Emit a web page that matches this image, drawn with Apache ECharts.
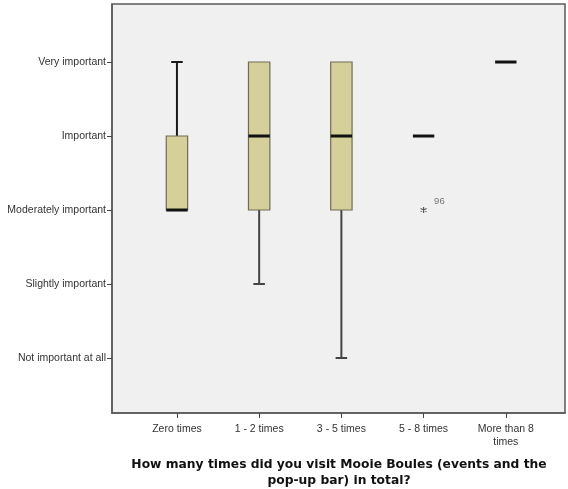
<!DOCTYPE html>
<html>
<head>
<meta charset="utf-8">
<script src="https://cdn.jsdelivr.net/npm/echarts@6/dist/echarts.min.js"></script>
<style>html,body{margin:0;padding:0;background:#fff;}#c{width:568px;height:489px;}</style>
</head>
<body>
<div id="c"></div>
<script>
// ---- data ----
const categories = ['Zero times', '1 - 2 times', '3 - 5 times', '5 - 8 times', 'More than 8\ntimes'];
const yLevels = [1, 2, 3, 4, 5];
const yLabels = ['Not important at all', 'Slightly important', 'Moderately important', 'Important', 'Very important'];
const whiskerLow  = [3, 2, 1, 4, 5];
const q1          = [3, 3, 3, 4, 5];
const medianVals  = [3, 4, 4, 4, 5];
const q3          = [4, 5, 5, 4, 5];
const whiskerHigh = [5, 5, 5, 4, 5];
const outlierCat = [3];
const outlierVal = [3];
const outlierCase = ['96'];
const xTitle = 'How many times did you visit Mooie Boules (events and the\npop-up bar) in total?';

const boxRows = categories.map((c, i) => [i, whiskerLow[i], q1[i], medianVals[i], q3[i], whiskerHigh[i]]);
const outlierRows = outlierCat.map((c, i) => ({ value: [c, outlierVal[i]], name: outlierCase[i] }));

const chart = echarts.init(document.getElementById('c'), null, { renderer: 'canvas' });
const font = 'Liberation Sans, Arial, sans-serif';

function renderBox(params, api) {
  const x = api.value(0);
  const lo = api.value(1), a = api.value(2), m = api.value(3), b = api.value(4), hi = api.value(5);
  const pLo = api.coord([x, lo]), pA = api.coord([x, a]), pM = api.coord([x, m]), pB = api.coord([x, b]), pHi = api.coord([x, hi]);
  const cx = pM[0];
  const w = api.size([1, 0])[0] * 0.26;
  const half = w / 2, cap = w * 0.27;
  const children = [];
  if (hi > b) {
    children.push({ type: 'line', shape: { x1: cx, y1: pB[1], x2: cx, y2: pHi[1] }, style: { stroke: '#1a1a1a', lineWidth: 2 } });
    children.push({ type: 'line', shape: { x1: cx - cap, y1: pHi[1], x2: cx + cap, y2: pHi[1] }, style: { stroke: '#1a1a1a', lineWidth: 2 } });
  }
  if (lo < a) {
    children.push({ type: 'line', shape: { x1: cx, y1: pA[1], x2: cx, y2: pLo[1] }, style: { stroke: '#444', lineWidth: 2 } });
    children.push({ type: 'line', shape: { x1: cx - cap, y1: pLo[1], x2: cx + cap, y2: pLo[1] }, style: { stroke: '#444', lineWidth: 2 } });
  }
  if (b > a) {
    children.push({ type: 'rect', shape: { x: cx - half, y: pB[1], width: w, height: pA[1] - pB[1] }, style: { fill: '#d5d09a', stroke: '#6f6c55', lineWidth: 1.2 } });
  }
  children.push({ type: 'line', shape: { x1: cx - half, y1: pM[1], x2: cx + half, y2: pM[1] }, style: { stroke: '#111', lineWidth: 3 } });
  return { type: 'group', children: children };
}

chart.setOption({
  animation: false,
  backgroundColor: '#ffffff',
  title: {
    text: xTitle,
    left: 334, top: 452, textAlign: 'center',
    textStyle: { fontFamily: 'DejaVu Sans, Verdana, sans-serif', fontWeight: 'bold', fontSize: 12.3, color: '#111', lineHeight: 16 }
  },
  grid: {
    left: 112, right: 3, top: 4, bottom: 76,
    show: true, backgroundColor: '#f0f0f0', borderColor: '#5a5a5a', borderWidth: 1.5,
    containLabel: false
  },
  xAxis: {
    type: 'value', min: -0.79, max: 4.72,
    splitLine: { show: false },
    axisLine: { show: true, onZero: false, lineStyle: { color: '#5a5a5a', width: 1.5 } },
    axisTick: { show: true, customValues: [0, 1, 2, 3, 4], length: 5, lineStyle: { color: '#444' } },
    axisLabel: {
      customValues: [0, 1, 2, 3, 4],
      formatter: v => categories[Math.round(v)] || '',
      fontFamily: font, fontSize: 10.5, color: '#333', margin: 10, lineHeight: 13
    }
  },
  yAxis: {
    type: 'value', min: 0.257, max: 5.784,
    splitLine: { show: false },
    axisLine: { show: true, onZero: false, lineStyle: { color: '#5a5a5a', width: 1.5 } },
    axisTick: { show: true, customValues: yLevels, length: 5, lineStyle: { color: '#444' } },
    axisLabel: {
      customValues: yLevels,
      formatter: v => yLabels[yLevels.indexOf(Math.round(v))] || '',
      fontFamily: font, fontSize: 10.5, color: '#333', margin: 6
    }
  },
  series: [
    {
      type: 'custom',
      renderItem: renderBox,
      data: boxRows,
      encode: { x: 0, y: [1, 2, 3, 4, 5] },
      z: 3
    },
    {
      type: 'scatter',
      data: outlierRows,
      symbol: 'path://M0,-1L0,1M-0.87,-0.5L0.87,0.5M-0.87,0.5L0.87,-0.5',
      symbolSize: 6,
      itemStyle: { color: 'none', borderColor: '#333', borderWidth: 1.2 },
      label: {
        show: true, formatter: p => p.name, position: 'right', offset: [0, -9],
        fontFamily: font, fontSize: 9.5, color: '#555'
      },
      z: 4
    }
  ]
});
</script>
</body>
</html>
